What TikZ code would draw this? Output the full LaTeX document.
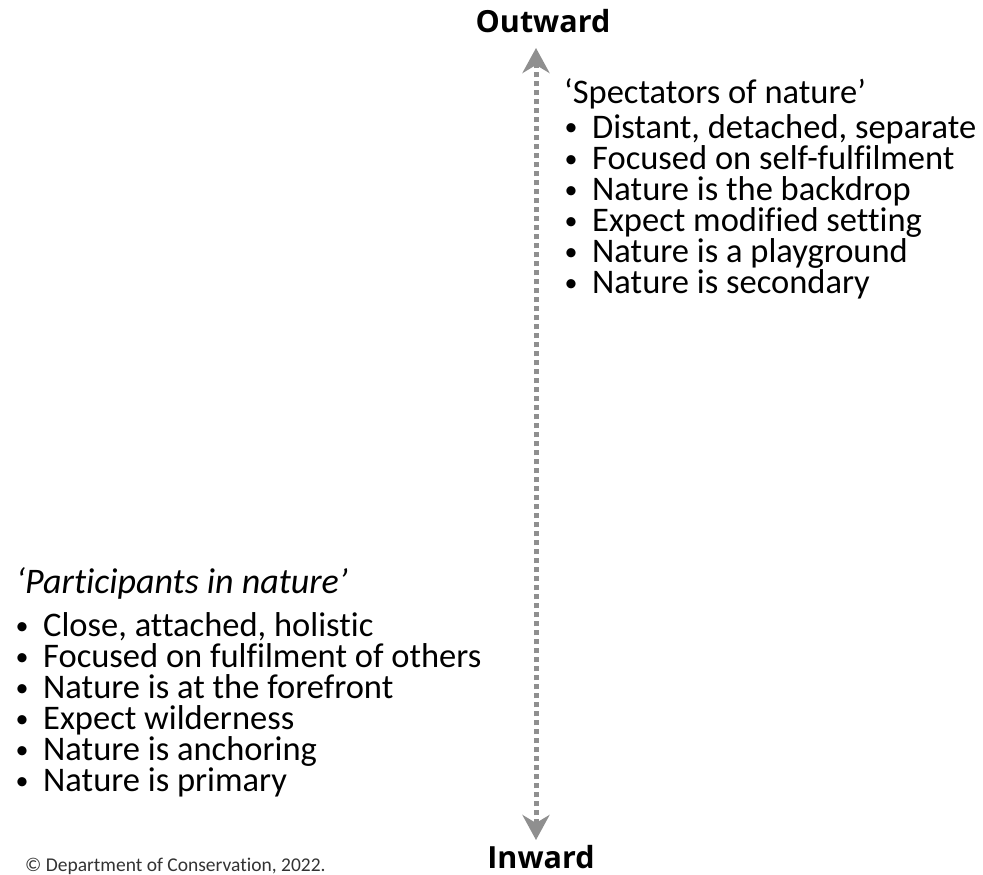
\documentclass[tikz,border=0pt]{standalone}
\usepackage{fontspec}
\setmainfont{Carlito}[Ligatures=NoCommon]
\newfontfamily\headfont{Open Sans}
\usetikzlibrary{arrows.meta}
\definecolor{axisgray}{HTML}{8F8F8F}
\definecolor{notegray}{HTML}{333333}
\tikzset{
  listtext/.style={anchor=base west, inner sep=0pt, font=\fontsize{34.5}{34.5}\selectfont},
  listhead/.style={listtext},
  axislabel/.style={anchor=base, inner sep=0pt, font=\headfont\bfseries\fontsize{30.5}{30.5}\selectfont},
  axisline/.style={draw=axisgray, line width=5pt, dash pattern=on 5pt off 4pt,
    {Stealth[length=25pt,width=27pt,inset=8pt,fill=axisgray]}-{Stealth[length=25pt,width=27pt,inset=8pt,fill=axisgray]}},
  credit/.style={anchor=base west, inner sep=0pt, text=notegray, font=\fontsize{19.5}{19.5}\selectfont}
}
% bullet hung to the left of the item text
\newcommand{\bul}{\llap{\makebox[10pt][c]{\raisebox{2pt}{\fontsize{26}{26}\selectfont•}}\hspace{16pt}}}
\begin{document}
\begin{tikzpicture}[x=1pt,y=-1pt]
\useasboundingbox (0,0) rectangle (983,875);

% vertical axis
\coordinate (top) at (536,48);
\coordinate (bot) at (536,840);
\draw[axisline] (bot) -- (top);
\node[axislabel] (outward) at (543,33) {Outward};
\node[axislabel] (inward) at (541,868) {Inward};

% outward group
\node[listhead] (sh) at (564,103) {‘Spectators of nature’};
\node[listtext] (s1) at (592,138) {\bul Distant, detached, separate};
\node[listtext] (s2) at (592,169) {\bul Focused on self-fulfilment};
\node[listtext] (s3) at (592,200) {\bul Nature is the backdrop};
\node[listtext] (s4) at (592,231) {\bul Expect modified setting};
\node[listtext] (s5) at (592,262) {\bul Nature is a playground};
\node[listtext] (s6) at (592,293) {\bul Nature is secondary};

% inward group
\node[listhead, font=\itshape\fontsize{36}{36}\selectfont] (ph) at (16,593) {‘Participants in nature’};
\node[listtext] (p1) at (43,636) {\bul Close, attached, holistic};
\node[listtext] (p2) at (43,667) {\bul Focused on fulfilment of others};
\node[listtext] (p3) at (43,698) {\bul Nature is at the forefront};
\node[listtext] (p4) at (43,729) {\bul Expect wilderness};
\node[listtext] (p5) at (43,760) {\bul Nature is anchoring};
\node[listtext] (p6) at (43,791) {\bul Nature is primary};

\node[credit] (copy) at (25,871) {© Department of Conservation, 2022.};
\end{tikzpicture}
\end{document}
